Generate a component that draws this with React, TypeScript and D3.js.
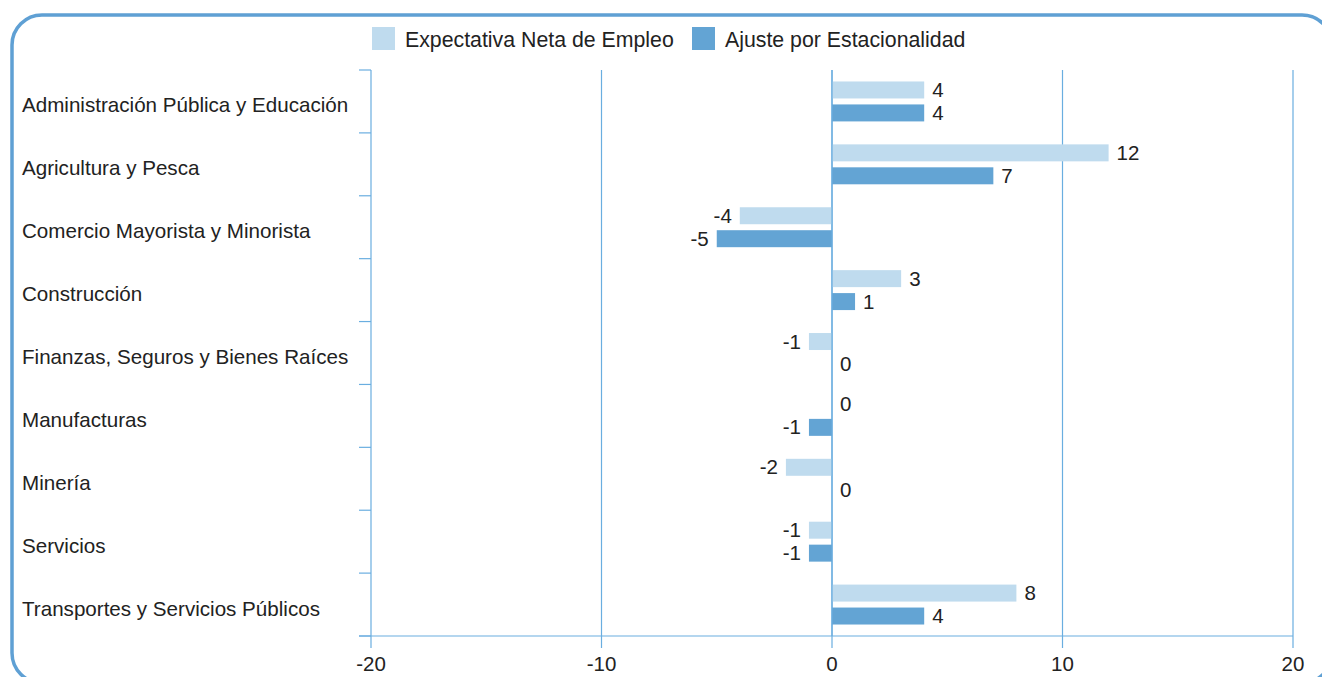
import React, { useRef, useEffect } from 'react';
import * as d3 from 'd3';

const categories = [
  'Administración Pública y Educación',
  'Agricultura y Pesca',
  'Comercio Mayorista y Minorista',
  'Construcción',
  'Finanzas, Seguros y Bienes Raíces',
  'Manufacturas',
  'Minería',
  'Servicios',
  'Transportes y Servicios Públicos',
];
const seriesNames = ['Expectativa Neta de Empleo', 'Ajuste por Estacionalidad'];
const expectativa = [4, 12, -4, 3, -1, 0, -2, -1, 8];
const ajuste = [4, 7, -5, 1, 0, -1, 0, -1, 4];
const xTicks = [-20, -10, 0, 10, 20];

const colors = ['#bfdbee', '#63a4d4'];
const lineColor = '#6aaee0';
const font = '"Liberation Sans", Arial, sans-serif';

const W = 1322;
const H = 677;

const App: React.FC = () => {
  const svgRef = useRef<SVGSVGElement>(null);

  useEffect(() => {
    if (!svgRef.current) return;
    const svg = d3.select(svgRef.current);
    svg.selectAll('*').remove();

    // outer frame
    svg.append('rect')
      .attr('x', 12).attr('y', 15)
      .attr('width', 1320).attr('height', 668)
      .attr('rx', 30).attr('ry', 30)
      .attr('fill', 'white')
      .attr('stroke', '#5fa0d4')
      .attr('stroke-width', 3.5);

    const left = 371, right = 1293, top = 70, bottom = 636;

    const x = d3.scaleLinear().domain([-20, 20]).range([left, right]);
    const y0 = d3.scaleBand().domain(categories).range([top, bottom]);
    const y1 = d3.scaleBand().domain(seriesNames).range([0, y0.bandwidth()])
      .paddingInner(0.26).paddingOuter(0.5);

    // vertical gridlines
    svg.append('g').selectAll('line')
      .data(xTicks)
      .enter().append('line')
      .attr('x1', d => x(d)).attr('x2', d => x(d))
      .attr('y1', top).attr('y2', bottom + 12)
      .attr('stroke', lineColor).attr('stroke-width', 1.2);

    // bottom axis line
    svg.append('line')
      .attr('x1', left - 12).attr('x2', right)
      .attr('y1', bottom).attr('y2', bottom)
      .attr('stroke', lineColor).attr('stroke-width', 1.2);

    // category ticks on the left axis
    const bounds = categories.map(c => y0(c) as number).concat([bottom]);
    svg.append('g').selectAll('line')
      .data(bounds)
      .enter().append('line')
      .attr('x1', left - 12).attr('x2', left)
      .attr('y1', d => d).attr('y2', d => d)
      .attr('stroke', lineColor).attr('stroke-width', 1.2);

    // x tick labels
    svg.append('g').selectAll('text')
      .data(xTicks)
      .enter().append('text')
      .attr('x', d => x(d))
      .attr('y', bottom + 35)
      .attr('text-anchor', 'middle')
      .style('font-family', font)
      .style('font-size', '20.5px')
      .style('fill', '#222')
      .text(d => String(d));

    // category labels
    svg.append('g').selectAll('text')
      .data(categories)
      .enter().append('text')
      .attr('x', 22)
      .attr('y', d => (y0(d) as number) + y0.bandwidth() / 2 + 11)
      .style('font-family', font)
      .style('font-size', '20.6px')
      .style('fill', '#222')
      .text(d => d);

    const rows = categories.flatMap((c, i) => [
      { cat: c, s: seriesNames[0], v: expectativa[i], k: 0 },
      { cat: c, s: seriesNames[1], v: ajuste[i], k: 1 },
    ]);

    const g = svg.append('g');
    g.selectAll('rect')
      .data(rows)
      .enter().append('rect')
      .attr('x', d => x(Math.min(0, d.v)))
      .attr('width', d => Math.abs(x(d.v) - x(0)))
      .attr('y', d => (y0(d.cat) as number) + (y1(d.s) as number))
      .attr('height', y1.bandwidth())
      .attr('fill', d => colors[d.k]);

    // redraw zero line over bars
    svg.append('line')
      .attr('x1', x(0)).attr('x2', x(0))
      .attr('y1', top).attr('y2', bottom)
      .attr('stroke', lineColor).attr('stroke-width', 1.2);

    g.selectAll('text')
      .data(rows)
      .enter().append('text')
      .attr('x', d => d.v < 0 ? x(d.v) - 8 : x(d.v) + 8)
      .attr('y', d => (y0(d.cat) as number) + (y1(d.s) as number) + y1.bandwidth() / 2 + 7)
      .attr('text-anchor', d => d.v < 0 ? 'end' : 'start')
      .style('font-family', font)
      .style('font-size', '20.5px')
      .style('fill', '#222')
      .text(d => String(d.v));

    // legend
    const legend = svg.append('g');
    const legendX = [372, 692];
    seriesNames.forEach((s, i) => {
      legend.append('rect')
        .attr('x', legendX[i]).attr('y', 27)
        .attr('width', 23).attr('height', 23)
        .attr('fill', colors[i]);
      legend.append('text')
        .attr('x', legendX[i] + 33).attr('y', 47)
        .style('font-family', font)
        .style('font-size', '21.3px')
        .style('fill', '#222')
        .text(s);
    });
  }, []);

  return (
    <svg
      ref={svgRef}
      width={W}
      height={H}
      style={{ position: 'absolute', left: 0, top: 0 }}
    />
  );
};

export default App;
